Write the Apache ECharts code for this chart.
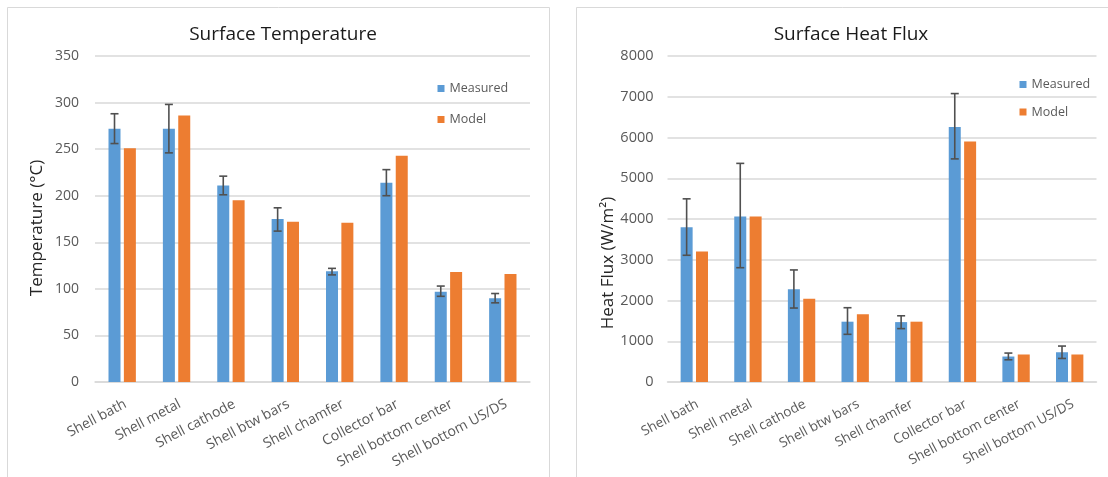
<!DOCTYPE html>
<html>
<head>
<meta charset="utf-8">
<script src="https://cdn.jsdelivr.net/npm/echarts@6/dist/echarts.min.js"></script>
<style>
  html, body { margin: 0; padding: 0; background: #ffffff; }
  #chart { width: 1108px; height: 477px; }
</style>
</head>
<body>
<div id="chart"></div>
<script>
// Categories shared by both panels
const categories = ['Shell bath', 'Shell metal', 'Shell cathode', 'Shell btw bars',
  'Shell chamfer', 'Collector bar', 'Shell bottom center', 'Shell bottom US/DS'];

// Surface temperature (°C)
const tempMeasured = [272, 272, 211, 175, 119, 214, 97, 90];
const tempModel = [251, 286, 195, 172, 171, 243, 118, 116];
const tempErrLow = [256, 246, 201, 162, 115, 200, 92, 85];
const tempErrHigh = [288, 298, 221, 187, 122, 228, 103, 95];
const tempTicks = { min: 0, max: 350, interval: 50 };

// Surface heat flux (W/m²)
const fluxMeasured = [3800, 4060, 2275, 1480, 1470, 6260, 625, 730];
const fluxModel = [3205, 4060, 2045, 1660, 1480, 5900, 675, 675];
const fluxErrLow = [3110, 2805, 1815, 1170, 1310, 5475, 545, 578];
const fluxErrHigh = [4495, 5365, 2750, 1823, 1625, 7078, 710, 882];
const fluxTicks = { min: 0, max: 8000, interval: 1000 };

const BLUE = '#5B9BD5';
const ORANGE = '#ED7D31';
const GRID_GRAY = '#D9D9D9';
const TEXT_GRAY = '#595959';
const FONT = '"Open Sans", "Noto Sans", sans-serif';

const BAR_W = 12;
const BAR_GAP = 0.28;
// horizontal shift of the Measured bar centre from the category centre
const MEASURED_SHIFT = -(BAR_W + BAR_W * BAR_GAP) / 2;

function errorRows(low, high) {
  return low.map((lo, i) => [i, lo, high[i]]);
}

function errorBarRender(params, api) {
  const cat = api.value(0);
  const lo = api.coord([cat, api.value(1)]);
  const hi = api.coord([cat, api.value(2)]);
  const x = lo[0] + MEASURED_SHIFT;
  const cap = 4;
  const style = { stroke: '#505050', lineWidth: 1.6 };
  return {
    type: 'group',
    children: [
      { type: 'line', shape: { x1: x, y1: hi[1], x2: x, y2: lo[1] }, style },
      { type: 'line', shape: { x1: x - cap, y1: hi[1], x2: x + cap, y2: hi[1] }, style },
      { type: 'line', shape: { x1: x - cap, y1: lo[1], x2: x + cap, y2: lo[1] }, style }
    ]
  };
}

function categoryAxis(gridIndex, fontSize) {
  return {
    type: 'category',
    gridIndex,
    data: categories,
    axisLine: { lineStyle: { color: GRID_GRAY, width: 1.5 } },
    axisTick: { show: false },
    axisLabel: {
      rotate: 28, interval: 0, margin: 15,
      align: 'right', verticalAlign: 'top',
      color: TEXT_GRAY, fontFamily: FONT, fontSize
    }
  };
}

function valueAxis(gridIndex, ticks, name, nameGap, namePad, labelSize, labelMargin) {
  return {
    type: 'value',
    gridIndex,
    min: ticks.min, max: ticks.max, interval: ticks.interval,
    name,
    nameLocation: 'middle',
    nameGap,
    nameTextStyle: {
      color: '#262626', fontFamily: FONT, fontSize: 17,
      padding: namePad
    },
    axisLine: { show: false },
    axisTick: { show: false },
    axisLabel: {
      color: TEXT_GRAY, fontFamily: FONT, fontSize: labelSize, margin: labelMargin,
      formatter: (v) => String(v)
    },
    splitLine: { lineStyle: { color: GRID_GRAY, width: 1.5 } }
  };
}

const chart = echarts.init(document.getElementById('chart'), null, { renderer: 'canvas' });

chart.setOption({
  animation: false,
  backgroundColor: '#ffffff',
  graphic: [
    { type: 'rect', shape: { x: 7.5, y: 7.5, width: 542, height: 490 },
      style: { fill: 'none', stroke: GRID_GRAY, lineWidth: 1 }, silent: true },
    { type: 'rect', shape: { x: 576.5, y: 7.5, width: 560, height: 490 },
      style: { fill: 'none', stroke: GRID_GRAY, lineWidth: 1 }, silent: true }
  ],
  title: [
    { text: 'Surface Temperature', left: 278, top: 20, textAlign: 'center',
      textStyle: { color: '#1a1a1a', fontFamily: FONT, fontSize: 19, fontWeight: 'normal' } },
    { text: 'Surface Heat Flux', left: 846, top: 20, textAlign: 'center',
      textStyle: { color: '#1a1a1a', fontFamily: FONT, fontSize: 19, fontWeight: 'normal' } }
  ],
  legend: [
    { orient: 'vertical', left: 432.5, top: 75.5, itemWidth: 7, itemHeight: 7, itemGap: 15,
      icon: 'rect', data: ['Measured', 'Model'],
      textStyle: { color: TEXT_GRAY, fontFamily: FONT, fontSize: 12.5, lineHeight: 16 } },
    { orient: 'vertical', left: 1014.5, top: 71.5, itemWidth: 7, itemHeight: 7, itemGap: 11.5,
      icon: 'rect', data: ['Measured', 'Model'],
      textStyle: { color: TEXT_GRAY, fontFamily: FONT, fontSize: 12.5, lineHeight: 16 } }
  ],
  grid: [
    { left: 95, top: 56, width: 435, height: 326 },
    { left: 667.5, top: 56, width: 429, height: 326 }
  ],
  xAxis: [categoryAxis(0, 14), categoryAxis(1, 13.5)],
  yAxis: [
    valueAxis(0, tempTicks, 'Temperature (°C)', 49, [0, 18, 0, 0], 14, 16),
    valueAxis(1, fluxTicks, 'Heat Flux (W/m²)', 46, [0, 88, 0, 0], 14.5, 14)
  ],
  series: [
    { name: 'Measured', type: 'bar', xAxisIndex: 0, yAxisIndex: 0, data: tempMeasured,
      barWidth: BAR_W, barGap: (BAR_GAP * 100) + '%', itemStyle: { color: BLUE } },
    { name: 'Model', type: 'bar', xAxisIndex: 0, yAxisIndex: 0, data: tempModel,
      barWidth: BAR_W, itemStyle: { color: ORANGE } },
    { type: 'custom', xAxisIndex: 0, yAxisIndex: 0, z: 5,
      data: errorRows(tempErrLow, tempErrHigh), renderItem: errorBarRender },
    { name: 'Measured', type: 'bar', xAxisIndex: 1, yAxisIndex: 1, data: fluxMeasured,
      barWidth: BAR_W, barGap: (BAR_GAP * 100) + '%', itemStyle: { color: BLUE } },
    { name: 'Model', type: 'bar', xAxisIndex: 1, yAxisIndex: 1, data: fluxModel,
      barWidth: BAR_W, itemStyle: { color: ORANGE } },
    { type: 'custom', xAxisIndex: 1, yAxisIndex: 1, z: 5,
      data: errorRows(fluxErrLow, fluxErrHigh), renderItem: errorBarRender }
  ]
});
</script>
</body>
</html>
